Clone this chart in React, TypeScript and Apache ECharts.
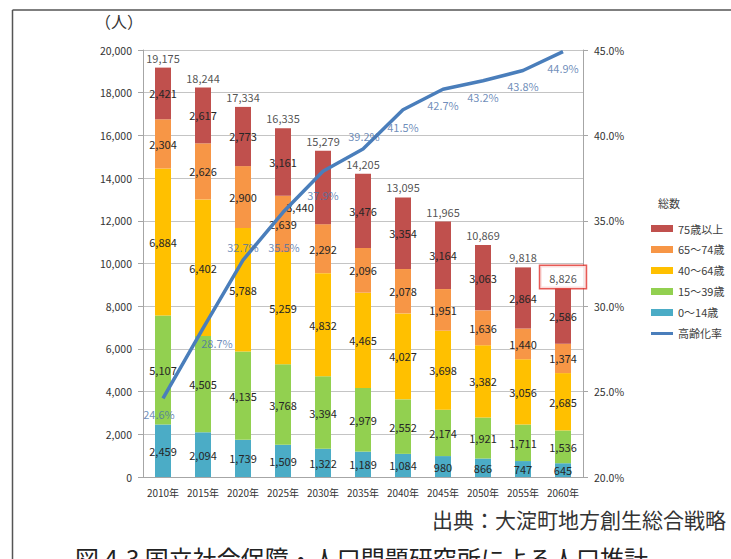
import React, { useEffect, useRef } from "react";
import * as echarts from "echarts";

const categories = ["2010年", "2015年", "2020年", "2025年", "2030年", "2035年", "2040年", "2045年", "2050年", "2055年", "2060年"];
const age0to14 = [2459, 2094, 1739, 1509, 1322, 1189, 1084, 980, 866, 747, 645];
const age15to39 = [5107, 4505, 4135, 3768, 3394, 2979, 2552, 2174, 1921, 1711, 1536];
const age40to64 = [6884, 6402, 5788, 5259, 4832, 4465, 4027, 3698, 3382, 3056, 2685];
const age65to74 = [2304, 2626, 2900, 2639, 2292, 2096, 2078, 1951, 1636, 1440, 1374];
const age75plus = [2421, 2617, 2773, 3161, 3440, 3476, 3354, 3164, 3063, 2864, 2586];
const totals = [19175, 18244, 17334, 16335, 15279, 14205, 13095, 11965, 10869, 9818, 8826];
const agingRate = [24.6, 28.7, 32.7, 35.5, 37.9, 39.2, 41.5, 42.7, 43.2, 43.8, 44.9];

// label placement (style only)
const rateLabelOffsets = [[-4, 16], [14, 15], [0, -13], [1, 35], [0, 24], [1, -13], [0, 17], [0, 16], [0, 16], [0, 16], [0, 16]];
const age75LabelOffsets: Record<number, number[]> = { 4: [-23, 20] };

const FONT = "'Noto Sans CJK JP', 'Noto Sans', sans-serif";
const fmt = (v: number) => v.toLocaleString("en-US");

export default function App() {
  const ref = useRef<HTMLDivElement>(null);
  useEffect(() => {
    if (!ref.current) return;
    const chart = echarts.init(ref.current, null, { renderer: "svg" });
    const barLabel = {
      show: true,
      position: "inside",
      color: "#262626",
      fontSize: 11,
      fontFamily: FONT,
      formatter: (p: any) => fmt(p.value),
    };
    const barSeries = (name: string, data: number[], color: string, offsets: Record<number, number[]> = {}) => ({
      name,
      type: "bar",
      stack: "pop",
      barWidth: 16,
      data: data.map((v, i) => (offsets[i] ? { value: v, label: { offset: offsets[i] } } : v)),
      itemStyle: { color },
      label: barLabel,
      z: 2,
    });
    chart.setOption({
      animation: false,
      textStyle: { fontFamily: FONT },
      grid: { left: 143, right: 148, top: 50, bottom: 82, containLabel: false },
      legend: {
        orient: "vertical",
        left: 646,
        top: 218,
        itemWidth: 22,
        itemHeight: 7,
        itemGap: 10,
        textStyle: { fontSize: 11, color: "#404040", fontFamily: FONT },
        data: [
          { name: "75歳以上", icon: "rect" },
          { name: "65〜74歳", icon: "rect" },
          { name: "40〜64歳", icon: "rect" },
          { name: "15〜39歳", icon: "rect" },
          { name: "0〜14歳", icon: "rect" },
          { name: "高齢化率", icon: "path://M0,0 L22,0 L22,3 L0,3 Z" },
        ],
      },
      xAxis: {
        type: "category",
        data: categories,
        axisLine: { lineStyle: { color: "#a6a6a6" } },
        axisTick: { show: false },
        axisLabel: { color: "#333", fontSize: 10, margin: 10, interval: 0, fontFamily: FONT },
      },
      yAxis: [
        {
          type: "value",
          min: 0,
          max: 20000,
          interval: 2000,
          axisLine: { show: true, lineStyle: { color: "#a6a6a6" } },
          axisTick: { show: true, length: 5, lineStyle: { color: "#a6a6a6" } },
          axisLabel: { color: "#333", fontSize: 10.5, margin: 11, fontFamily: FONT, formatter: (v: number) => fmt(v) },
          splitLine: { lineStyle: { color: "#c4c4c4" } },
        },
        {
          type: "value",
          min: 20,
          max: 45,
          interval: 5,
          position: "right",
          axisLine: { show: true, lineStyle: { color: "#a6a6a6" } },
          axisTick: { show: true, length: 5, lineStyle: { color: "#a6a6a6" } },
          axisLabel: { color: "#333", fontSize: 10.5, margin: 11, fontFamily: FONT, formatter: (v: number) => v.toFixed(1) + "%" },
          splitLine: { show: false },
        },
      ],
      series: [
        barSeries("0〜14歳", age0to14, "#4bacc6"),
        barSeries("15〜39歳", age15to39, "#92d050"),
        barSeries("40〜64歳", age40to64, "#ffc000"),
        barSeries("65〜74歳", age65to74, "#f79646"),
        barSeries("75歳以上", age75plus, "#c0504d", age75LabelOffsets),
        {
          name: "総数",
          type: "scatter",
          yAxisIndex: 0,
          symbolSize: 1,
          itemStyle: { color: "rgba(0,0,0,0)" },
          silent: true,
          z: 5,
          data: totals.map((v, i) =>
            i === totals.length - 1
              ? {
                  value: v,
                  label: {
                    show: true,
                    position: "top",
                    distance: 0,
                    borderColor: "#e0312b",
                    borderWidth: 1.5,
                    backgroundColor: "#fff",
                    padding: [6, 9, 5, 9],
                  },
                }
              : v
          ),
          label: {
            show: true,
            position: "top",
            distance: 4,
            color: "#262626",
            fontSize: 11,
            fontFamily: FONT,
            formatter: (p: any) => fmt(p.value),
          },
        },
        {
          name: "高齢化率",
          type: "line",
          yAxisIndex: 1,
          data: agingRate,
          symbol: "none",
          lineStyle: { color: "#4a7ebb", width: 3.5 },
          itemStyle: { color: "#4a7ebb" },
          z: 4,
        },
        {
          name: "高齢化率ラベル",
          type: "scatter",
          yAxisIndex: 1,
          symbolSize: 1,
          itemStyle: { color: "rgba(0,0,0,0)" },
          silent: true,
          z: 6,
          data: agingRate.map((v, i) => ({
            value: v,
            label: { offset: rateLabelOffsets[i] },
          })),
          label: {
            show: true,
            position: "inside",
            color: "#4a70a8",
            fontSize: 11,
            fontFamily: FONT,
            formatter: (p: any) => p.value.toFixed(1) + "%",
          },
        },
      ],
      graphic: [
        { type: "line", shape: { x1: 12.5, y1: 10, x2: 731, y2: 10 }, style: { stroke: "#555", lineWidth: 1.5 } },
        { type: "line", shape: { x1: 12.5, y1: 10, x2: 12.5, y2: 559 }, style: { stroke: "#555", lineWidth: 1.5 } },
        { type: "text", left: 95, top: 13, style: { text: "（人）", fontSize: 16, fill: "#333", fontFamily: FONT } },
        { type: "text", left: 658, top: 197, style: { text: "総数", fontSize: 11, fill: "#404040", fontFamily: FONT } },
        { type: "text", left: 432, top: 508, style: { text: "出典：大淀町地方創生総合戦略", fontSize: 21, fill: "#333", fontFamily: FONT } },
        { type: "text", left: 75, top: 545, style: { text: "図 4-3 国立社会保障・人口問題研究所による人口推計", fontSize: 24, fill: "#222", fontFamily: FONT } },
      ],
    });
    return () => chart.dispose();
  }, []);
  return <div ref={ref} style={{ position: "fixed", left: 0, top: 0, width: 731, height: 559, background: "#fff" }} />;
}
